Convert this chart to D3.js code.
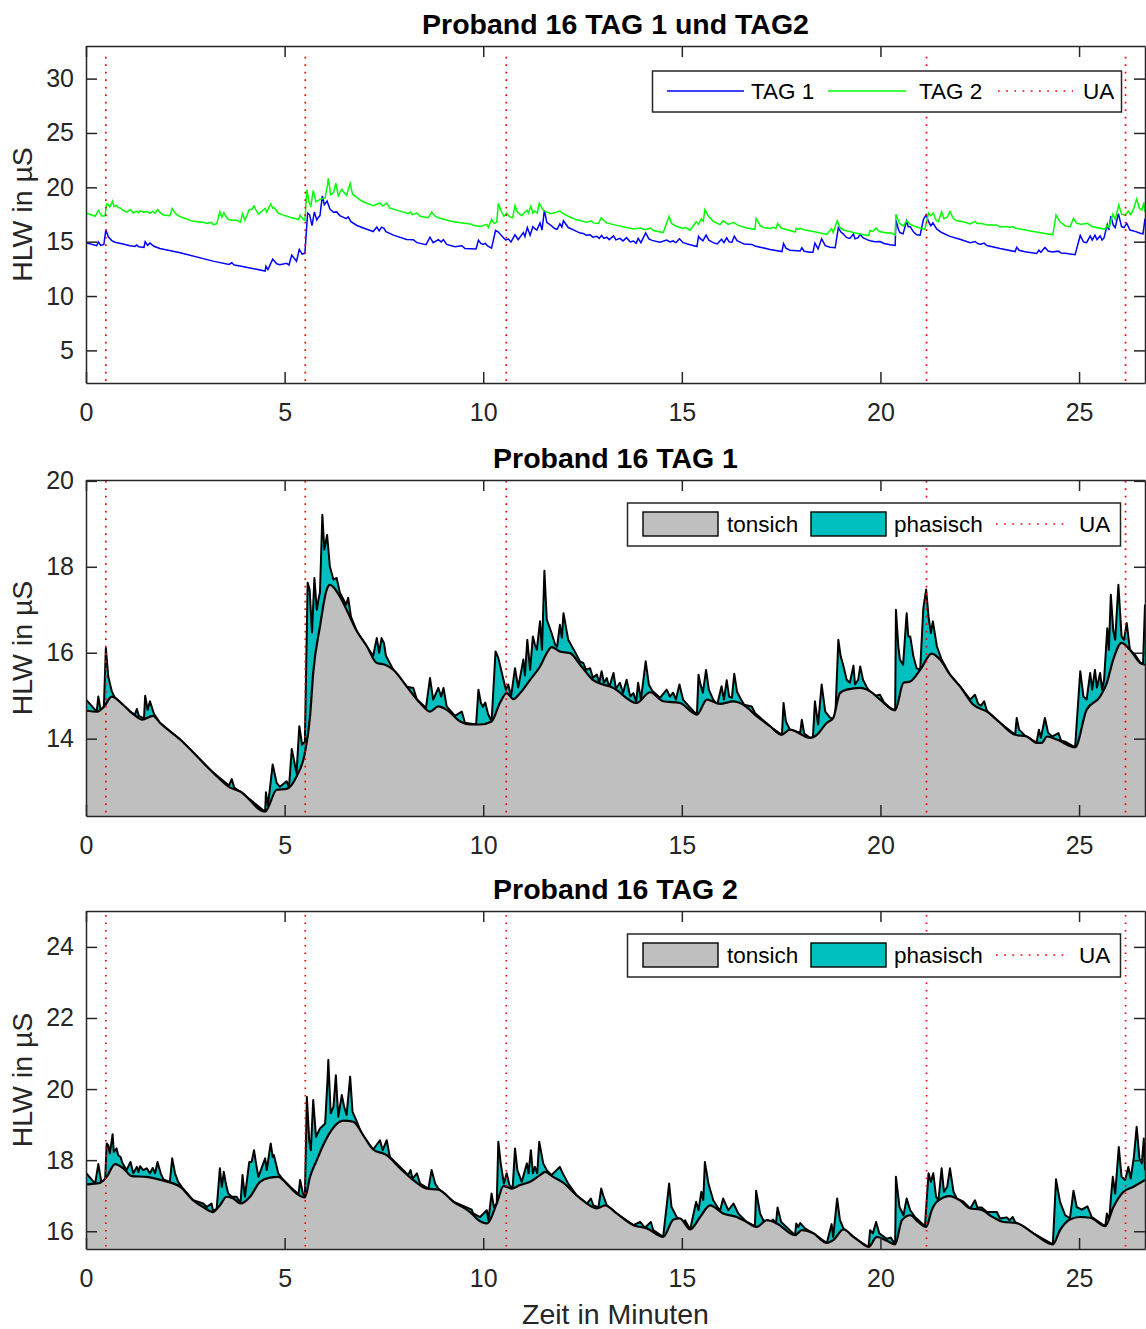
<!DOCTYPE html>
<html lang="de">
<head>
<meta charset="utf-8">
<script src="https://cdn.jsdelivr.net/npm/d3@7"></script>
<style>
	body { margin: 0; background: #fff; }
	svg { display: block; font-family: "Liberation Sans", Arial, Helvetica, sans-serif; }
</style>
</head>
<body>
<svg id="chart" width="1146" height="1329"></svg>
<script>
// UA-Zeitpunkte (Minuten) und Achsenticks
var uaMinutes = [0.50, 5.52, 10.58, 21.16, 26.17];
var minuteTicks = [0, 5, 10, 15, 20, 25];
var yTicksBoth = [5, 10, 15, 20, 25, 30];
var yTicksTag1 = [14, 16, 18, 20];
var yTicksTag2 = [16, 18, 20, 22, 24];
var lineKeys = ["TAG 1", "TAG 2", "UA"];
var areaKeys = ["tonsich", "phasisch", "UA"];

// TAG 1: tonischer Anteil [min, µS]
var tag1Tonic = [[0.00,14.65],[0.28,14.63],[0.45,14.74],[0.65,14.98],[0.93,14.79],[1.11,14.63],[1.28,14.51],[1.41,14.44],[1.69,14.53],[1.86,14.37],[2.37,13.98],[3.20,13.21],[3.63,12.86],[3.88,12.77],[4.51,12.30],[4.80,12.81],[5.05,12.83],[5.30,13.12],[5.51,13.67],[5.64,14.52],[5.72,15.53],[5.89,16.61],[6.06,17.47],[6.14,17.58],[6.39,17.31],[6.56,17.00],[6.82,16.50],[7.07,16.15],[7.32,15.76],[7.53,15.72],[7.74,15.60],[8.07,15.22],[8.41,14.83],[8.66,14.63],[8.87,14.75],[9.08,14.67],[9.42,14.40],[9.67,14.33],[9.92,14.33],[10.21,14.40],[10.42,14.83],[10.59,15.06],[10.76,14.92],[10.93,15.06],[11.18,15.37],[11.43,15.68],[11.60,15.99],[11.72,16.13],[11.93,16.03],[12.19,15.99],[12.44,15.72],[12.77,15.36],[13.28,15.18],[13.86,14.83],[14.20,15.08],[14.53,14.87],[14.95,14.83],[15.38,14.56],[15.63,14.91],[15.96,14.81],[16.30,14.87],[16.55,14.79],[16.89,14.52],[17.22,14.29],[17.51,14.09],[17.72,14.21],[18.23,14.02],[18.40,14.09],[18.65,14.37],[18.81,14.48],[18.98,15.06],[19.15,15.14],[19.49,15.18],[19.74,15.10],[19.99,14.91],[20.37,14.66],[20.58,15.30],[20.75,15.33],[21.00,15.60],[21.29,15.98],[21.50,15.84],[21.75,15.49],[22.00,15.22],[22.34,14.79],[22.68,14.63],[23.01,14.37],[23.39,14.09],[23.68,14.05],[23.94,13.90],[24.06,13.90],[24.19,14.05],[24.44,13.98],[24.90,13.80],[25.19,14.67],[25.53,14.98],[25.70,15.30],[25.86,15.84],[26.07,16.23],[26.28,16.07],[26.54,15.76],[26.66,15.72]];

// TAG 1: Gesamtsignal (tonisch + phasisch)
var tag1Total = [[0.00,14.91],[0.27,14.63],[0.31,14.98],[0.37,14.65],[0.45,14.74],[0.50,16.11],[0.56,15.45],[0.65,15.10],[0.73,14.95],[0.93,14.79],[1.11,14.63],[1.23,14.56],[1.28,14.69],[1.33,14.53],[1.46,14.47],[1.49,15.00],[1.55,14.67],[1.61,14.87],[1.71,14.58],[1.86,14.37],[2.37,13.98],[3.20,13.21],[3.60,12.91],[3.67,13.06],[3.73,12.86],[3.88,12.77],[4.51,12.30],[4.53,12.75],[4.58,12.44],[4.70,13.40],[4.80,12.97],[4.88,12.88],[5.05,13.01],[5.11,12.86],[5.18,13.76],[5.30,13.20],[5.37,14.29],[5.44,13.86],[5.51,13.93],[5.58,17.63],[5.63,17.47],[5.69,16.47],[5.75,17.74],[5.81,17.00],[5.85,17.23],[5.89,17.40],[5.95,19.21],[6.00,18.40],[6.07,18.74],[6.14,18.00],[6.23,17.70],[6.31,17.74],[6.39,17.40],[6.55,17.12],[6.60,17.28],[6.67,16.84],[6.82,16.49],[7.07,16.14],[7.23,15.93],[7.32,16.34],[7.38,16.00],[7.44,16.34],[7.50,16.23],[7.55,15.93],[7.74,15.60],[8.07,15.21],[8.24,15.18],[8.33,14.91],[8.56,14.72],[8.66,15.41],[8.74,14.91],[8.87,15.18],[8.94,14.98],[9.00,15.18],[9.08,14.75],[9.29,14.53],[9.46,14.63],[9.54,14.37],[9.82,14.33],[9.88,15.14],[9.94,14.84],[9.99,14.74],[10.05,14.84],[10.12,14.58],[10.21,14.40],[10.31,16.03],[10.38,15.88],[10.51,15.37],[10.57,15.14],[10.63,15.26],[10.70,14.98],[10.80,15.64],[10.88,15.19],[11.01,15.84],[11.05,15.47],[11.11,16.30],[11.18,15.60],[11.25,16.38],[11.30,16.19],[11.35,16.07],[11.43,16.73],[11.48,16.07],[11.54,17.91],[11.60,16.77],[11.72,16.46],[11.81,16.19],[11.86,16.14],[11.93,16.65],[11.98,16.35],[12.02,16.92],[12.14,16.30],[12.31,16.02],[12.44,15.79],[12.52,15.76],[12.59,15.60],[12.69,15.64],[12.76,15.42],[12.86,15.49],[12.92,15.30],[12.98,15.57],[13.04,15.30],[13.11,15.41],[13.17,15.19],[13.28,15.53],[13.34,15.16],[13.44,15.30],[13.52,15.07],[13.61,15.37],[13.70,14.98],[13.78,15.06],[13.85,14.86],[13.90,15.30],[13.97,14.91],[14.09,15.80],[14.17,15.26],[14.25,15.12],[14.45,14.95],[14.62,15.14],[14.70,14.98],[14.78,15.07],[14.85,14.91],[14.94,15.26],[15.03,14.91],[15.21,14.72],[15.38,14.56],[15.42,15.49],[15.46,15.30],[15.53,15.07],[15.61,15.60],[15.68,15.14],[15.79,14.91],[15.89,14.79],[16.00,15.22],[16.06,14.91],[16.13,15.36],[16.19,14.98],[16.26,14.95],[16.32,15.51],[16.39,15.09],[16.49,14.91],[16.57,14.79],[16.76,14.75],[16.84,14.60],[16.97,14.49],[17.12,14.37],[17.22,14.28],[17.52,14.09],[17.56,14.83],[17.62,14.40],[17.72,14.21],[17.98,14.14],[18.02,14.44],[18.08,14.12],[18.23,14.02],[18.30,14.02],[18.35,14.87],[18.43,14.33],[18.52,15.26],[18.61,14.63],[18.73,14.49],[18.86,14.44],[18.94,16.30],[19.00,15.91],[19.06,15.72],[19.15,15.37],[19.23,15.30],[19.32,15.70],[19.36,15.26],[19.44,15.37],[19.49,15.68],[19.56,15.37],[19.66,15.19],[19.74,15.09],[19.86,15.00],[19.99,15.02],[20.09,14.84],[20.24,14.72],[20.37,14.65],[20.39,17.00],[20.45,16.15],[20.49,15.84],[20.57,15.72],[20.66,16.92],[20.70,16.38],[20.75,16.38],[20.83,15.91],[20.91,15.64],[21.00,15.60],[21.08,17.04],[21.15,17.47],[21.21,16.84],[21.27,16.46],[21.32,16.73],[21.42,16.15],[21.54,15.84],[21.75,15.49],[22.00,15.22],[22.26,14.91],[22.38,15.02],[22.46,14.81],[22.53,14.77],[22.61,14.87],[22.68,14.65],[23.01,14.37],[23.39,14.09],[23.43,14.48],[23.49,14.21],[23.64,14.07],[23.93,13.91],[23.99,14.21],[24.04,14.02],[24.14,14.48],[24.22,14.14],[24.32,14.05],[24.48,14.13],[24.55,13.95],[24.65,13.93],[24.90,13.80],[25.03,15.57],[25.11,14.98],[25.19,14.91],[25.28,15.53],[25.33,15.14],[25.40,15.60],[25.45,15.19],[25.53,15.53],[25.58,15.14],[25.63,15.37],[25.71,16.57],[25.75,16.07],[25.80,17.35],[25.86,16.53],[25.91,16.30],[25.99,17.58],[26.07,16.38],[26.13,16.30],[26.20,16.69],[26.28,16.07],[26.41,15.95],[26.54,15.77],[26.61,15.72],[26.66,17.12]];

// TAG 2: tonischer Anteil
var tag2Tonic = [[0.00,17.32],[0.35,17.36],[0.52,17.53],[0.73,17.89],[0.94,17.77],[1.15,17.55],[1.53,17.53],[1.95,17.42],[2.37,17.25],[2.70,16.87],[2.95,16.68],[3.20,16.54],[3.37,16.73],[3.54,16.97],[3.71,16.92],[3.89,16.78],[4.13,16.97],[4.38,17.39],[4.63,17.51],[4.84,17.53],[5.05,17.34],[5.30,17.06],[5.51,16.95],[5.64,17.53],[5.81,18.00],[5.97,18.42],[6.23,18.92],[6.48,19.11],[6.73,19.08],[6.98,18.70],[7.23,18.30],[7.57,18.14],[7.91,17.77],[8.24,17.44],[8.58,17.20],[8.87,17.17],[9.25,16.83],[9.67,16.54],[9.92,16.28],[10.09,16.22],[10.34,16.78],[10.51,17.27],[10.72,17.20],[10.93,17.30],[11.18,17.39],[11.43,17.58],[11.56,17.67],[11.76,17.53],[12.02,17.36],[12.35,17.01],[12.61,16.78],[12.86,16.64],[13.07,16.73],[13.36,16.50],[13.78,16.17],[14.12,16.08],[14.53,15.84],[14.79,16.33],[14.95,16.36],[15.21,16.05],[15.46,16.40],[15.71,16.73],[16.04,16.50],[16.38,16.40],[16.63,16.26],[16.89,16.12],[17.14,16.31],[17.39,16.22],[17.85,15.89],[18.02,16.03],[18.31,15.94],[18.65,15.67],[18.81,15.75],[19.07,16.05],[19.32,15.84],[19.49,15.70],[19.70,15.56],[19.91,15.84],[20.16,15.73],[20.37,15.63],[20.54,16.31],[20.75,16.45],[20.95,16.26],[21.15,16.12],[21.29,16.59],[21.42,16.83],[21.75,16.99],[22.00,16.87],[22.26,16.64],[22.51,16.61],[22.84,16.39],[23.09,16.26],[23.43,16.23],[23.85,15.94],[24.34,15.63],[24.52,16.03],[24.77,16.33],[25.03,16.40],[25.28,16.38],[25.66,16.14],[25.86,16.67],[26.12,17.11],[26.37,17.25],[26.66,17.44]];

// TAG 2: Gesamtsignal
var tag2Total = [[0.00,17.64],[0.23,17.34],[0.31,17.89],[0.39,17.36],[0.48,17.39],[0.52,18.47],[0.56,18.42],[0.60,18.19],[0.67,18.73],[0.70,18.23],[0.77,18.33],[0.81,18.14],[0.87,18.09],[0.92,17.91],[1.02,17.72],[1.12,17.95],[1.19,17.63],[1.28,17.81],[1.32,17.67],[1.36,17.83],[1.44,17.72],[1.53,17.77],[1.61,17.63],[1.68,17.78],[1.74,17.63],[1.80,17.95],[1.88,17.63],[1.95,17.46],[2.11,17.39],[2.17,18.05],[2.24,17.63],[2.32,17.39],[2.41,17.25],[2.70,16.87],[2.95,16.78],[3.04,16.68],[3.16,16.78],[3.20,16.57],[3.29,16.64],[3.37,17.77],[3.42,17.25],[3.47,17.67],[3.52,17.34],[3.58,17.06],[3.67,16.97],[3.79,16.97],[3.89,16.80],[3.94,17.58],[4.00,16.97],[4.11,17.95],[4.17,17.95],[4.23,18.28],[4.28,17.91],[4.34,17.53],[4.51,18.05],[4.55,17.72],[4.65,18.47],[4.70,18.09],[4.73,18.14],[4.84,17.63],[4.97,17.44],[5.14,17.25],[5.35,17.04],[5.39,17.44],[5.46,17.06],[5.51,16.95],[5.56,19.78],[5.62,18.56],[5.66,18.28],[5.72,19.69],[5.79,18.66],[5.89,18.89],[6.02,19.03],[6.08,20.25],[6.10,20.82],[6.16,19.32],[6.23,19.50],[6.29,20.39],[6.35,19.22],[6.44,19.83],[6.50,19.50],[6.56,19.27],[6.65,20.35],[6.71,19.36],[6.80,19.13],[6.90,18.85],[6.99,18.65],[7.23,18.30],[7.40,18.56],[7.47,18.28],[7.57,18.56],[7.65,18.09],[7.78,17.95],[8.11,17.58],[8.17,17.72],[8.22,17.48],[8.33,17.63],[8.41,17.34],[8.62,17.20],[8.70,17.72],[8.79,17.34],[8.87,17.20],[9.25,16.83],[9.71,16.61],[9.74,16.51],[9.92,16.40],[10.09,16.59],[10.13,16.31],[10.21,17.06],[10.27,16.68],[10.34,16.78],[10.38,18.52],[10.44,17.91],[10.52,17.34],[10.59,17.63],[10.66,17.30],[10.74,17.20],[10.80,18.33],[10.86,17.72],[10.97,17.39],[11.10,17.91],[11.14,17.63],[11.20,18.28],[11.25,17.63],[11.30,17.81],[11.36,17.63],[11.41,18.52],[11.51,17.91],[11.60,17.72],[11.72,17.58],[11.93,17.81],[12.00,17.63],[12.14,17.34],[12.35,17.01],[12.61,16.78],[12.71,16.92],[12.77,16.73],[12.90,16.67],[12.97,17.20],[13.02,17.01],[13.11,16.73],[13.36,16.50],[13.78,16.17],[13.95,16.26],[14.07,16.10],[14.22,16.26],[14.28,16.03],[14.53,15.84],[14.68,17.34],[14.74,16.68],[14.87,16.40],[15.04,16.22],[15.08,16.31],[15.21,16.05],[15.36,16.83],[15.42,16.59],[15.49,17.11],[15.54,16.87],[15.58,17.95],[15.67,17.34],[15.79,16.87],[15.96,16.57],[16.04,16.92],[16.17,16.59],[16.30,16.78],[16.42,16.50],[16.63,16.26],[16.84,16.14],[16.87,17.14],[16.97,16.50],[17.05,16.31],[17.22,16.22],[17.29,16.33],[17.37,16.22],[17.41,16.67],[17.50,16.26],[17.85,15.89],[17.88,16.22],[17.93,16.12],[17.98,16.23],[18.10,16.08],[18.31,15.94],[18.65,15.67],[18.77,16.20],[18.81,15.84],[18.91,16.92],[18.98,16.31],[19.07,16.08],[19.32,15.84],[19.49,15.70],[19.70,15.56],[19.74,16.03],[19.81,15.94],[19.89,16.26],[19.97,15.94],[20.16,15.79],[20.26,15.82],[20.37,15.63],[20.39,17.53],[20.48,16.68],[20.58,16.45],[20.66,16.92],[20.75,16.59],[20.87,16.40],[21.12,16.14],[21.17,16.97],[21.21,17.63],[21.27,17.39],[21.33,17.63],[21.40,16.97],[21.46,16.87],[21.54,17.77],[21.60,17.11],[21.68,17.25],[21.75,17.77],[21.84,17.11],[21.92,16.92],[22.09,16.83],[22.26,16.64],[22.38,16.87],[22.44,16.67],[22.55,16.67],[22.68,16.54],[22.93,16.54],[23.01,16.36],[23.18,16.39],[23.25,16.31],[23.33,16.40],[23.39,16.26],[23.85,15.94],[24.34,15.63],[24.42,17.46],[24.52,16.83],[24.65,16.45],[24.77,16.36],[24.86,17.14],[24.94,16.68],[25.07,16.61],[25.21,16.70],[25.32,16.40],[25.66,16.14],[25.70,16.50],[25.76,16.31],[25.80,16.92],[25.85,17.53],[25.91,17.06],[26.00,18.37],[26.07,17.53],[26.16,17.44],[26.24,17.81],[26.30,17.48],[26.38,18.09],[26.45,18.94],[26.52,18.05],[26.58,17.91],[26.63,18.61],[26.66,17.72]];

var axisColor = "#262626";
var svg = d3.select("#chart");
var defs = svg.append("defs");

var x = d3.scaleLinear().domain([0, 26.66]).range([86, 1145]);

var panels = [
	{top: 46, bottom: 383, ydom: [2, 33], yticks: yTicksBoth, title: "Proband 16 TAG 1 und TAG2", uaTop: 32},
	{top: 480, bottom: 816, ydom: [12.2, 20.02], yticks: yTicksTag1, title: "Proband 16 TAG 1", uaTop: 20, tonic: tag1Tonic, total: tag1Total},
	{top: 911, bottom: 1249, ydom: [15.5, 25.01], yticks: yTicksTag2, title: "Proband 16 TAG 2", uaTop: 24.9, tonic: tag2Tonic, total: tag2Total}
];

panels.forEach(function(p, i) {
	var y = d3.scaleLinear().domain(p.ydom).range([p.bottom, p.top]);

	defs.append("clipPath").attr("id", "clip" + i)
		.append("rect")
		.attr("x", x.range()[0]).attr("y", p.top)
		.attr("width", x.range()[1] - x.range()[0])
		.attr("height", p.bottom - p.top);

	var plot = svg.append("g").attr("clip-path", "url(#clip" + i + ")");

	var line = d3.line().x(d => x(d[0])).y(d => y(d[1]));

	if (i == 0) {
		plot.append("path")
			.attr("d", line(tag1Total))
			.attr("fill", "none")
			.attr("stroke", "#0000ff")
			.attr("stroke-width", 1.5);
		plot.append("path")
			.attr("d", line(tag2Total))
			.attr("fill", "none")
			.attr("stroke", "#00ff00")
			.attr("stroke-width", 1.5);
	} else {
		var smooth = d3.line().x(d => x(d[0])).y(d => y(d[1])).curve(d3.curveMonotoneX);
		var totalArea = d3.area().x(d => x(d[0])).y0(p.bottom).y1(d => y(d[1]));
		var tonicArea = d3.area().x(d => x(d[0])).y0(p.bottom).y1(d => y(d[1])).curve(d3.curveMonotoneX);
		var aboveTonic = d3.area().x(d => x(d[0])).y0(p.top).y1(d => y(d[1])).curve(d3.curveMonotoneX);

		// phasisch = Fläche zwischen Gesamt und tonisch
		plot.append("path").attr("d", totalArea(p.total)).attr("fill", "#00bfbf");
		plot.append("path").attr("d", tonicArea(p.tonic)).attr("fill", "#bfbfbf");

		// Kontur des Gesamtsignals nur oberhalb des tonischen Anteils
		defs.append("clipPath").attr("id", "above" + i)
			.append("path").attr("d", aboveTonic(p.tonic));
		plot.append("g").attr("clip-path", "url(#above" + i + ")")
			.append("path")
			.attr("d", line(p.total))
			.attr("fill", "none")
			.attr("stroke", "#000")
			.attr("stroke-width", 2)
			.attr("stroke-linejoin", "round");

		plot.append("path")
			.attr("d", smooth(p.tonic))
			.attr("fill", "none")
			.attr("stroke", "#000")
			.attr("stroke-width", 2.2);
	}

	// UA Markierungen
	plot.selectAll(".ua")
		.data(uaMinutes)
		.enter()
		.append("line")
		.attr("x1", d => x(d)).attr("x2", d => x(d))
		.attr("y1", y(p.uaTop)).attr("y2", p.bottom)
		.attr("stroke", "#ff0000")
		.attr("stroke-width", 1.7)
		.attr("stroke-dasharray", "1.7,5.8");

	// Achsen (Box mit Ticks nach innen)
	var axes = [
		{ax: d3.axisBottom(x).tickValues(minuteTicks).tickPadding(20), tr: "translate(0," + p.bottom + ")"},
		{ax: d3.axisTop(x).tickValues(minuteTicks).tickFormat(""), tr: "translate(0," + p.top + ")"},
		{ax: d3.axisLeft(y).tickValues(p.yticks).tickPadding(12), tr: "translate(" + x.range()[0] + ",0)"},
		{ax: d3.axisRight(y).tickValues(p.yticks).tickFormat(""), tr: "translate(" + x.range()[1] + ",0)"}
	];
	axes.forEach(function(a) {
		var g = svg.append("g")
			.attr("transform", a.tr)
			.call(a.ax.tickSize(-11).tickSizeOuter(0));
		g.attr("font-size", 25).attr("font-family", null);
		g.selectAll("path.domain, .tick line")
			.attr("stroke", axisColor)
			.attr("stroke-width", 1.5);
		g.selectAll(".tick text").attr("fill", axisColor);
	});

	// Titel + y-Beschriftung
	svg.append("text")
		.attr("x", (x.range()[0] + x.range()[1]) / 2)
		.attr("y", p.top - 12)
		.attr("text-anchor", "middle")
		.attr("font-size", 28.5)
		.attr("font-weight", "bold")
		.attr("fill", "#000")
		.text(p.title);

	svg.append("text")
		.attr("transform", "translate(32," + (p.top + p.bottom) / 2 + ") rotate(-90)")
		.attr("text-anchor", "middle")
		.attr("font-size", 28.5)
		.attr("fill", axisColor)
		.text("HLW in µS");

	// Legende
	var leg = svg.append("g").attr("font-size", 22.5).attr("fill", "#000");
	if (i == 0) {
		leg.append("rect")
			.attr("x", 652.5).attr("y", p.top + 25)
			.attr("width", 469).attr("height", 41)
			.attr("fill", "#fff").attr("stroke", axisColor).attr("stroke-width", 1.5);
		var keyX = [[667, 744, 751], [828, 906, 919], [998, 1073, 1083]];
		var keyStroke = ["#0000ff", "#00ff00", "#ff0000"];
		lineKeys.forEach(function(k, j) {
			leg.append("line")
				.attr("x1", keyX[j][0]).attr("x2", keyX[j][1])
				.attr("y1", p.top + 45).attr("y2", p.top + 45)
				.attr("stroke", keyStroke[j])
				.attr("stroke-width", j == 2 ? 1.7 : 1.5)
				.attr("stroke-dasharray", j == 2 ? "1.7,6.5" : null);
			leg.append("text").attr("x", keyX[j][2]).attr("y", p.top + 53).text(k);
		});
	} else {
		leg.append("rect")
			.attr("x", 627.5).attr("y", p.top + 23)
			.attr("width", 493).attr("height", 43)
			.attr("fill", "#fff").attr("stroke", axisColor).attr("stroke-width", 1.5);
		var patchX = [[643, 727], [811, 894]];
		var patchFill = ["#bfbfbf", "#00bfbf"];
		patchX.forEach(function(px, j) {
			leg.append("rect")
				.attr("x", px[0]).attr("y", p.top + 32)
				.attr("width", 75).attr("height", 24)
				.attr("fill", patchFill[j]).attr("stroke", "#000").attr("stroke-width", 1.4);
			leg.append("text").attr("x", px[1]).attr("y", p.top + 52).text(areaKeys[j]);
		});
		leg.append("line")
			.attr("x1", 996).attr("x2", 1068)
			.attr("y1", p.top + 44).attr("y2", p.top + 44)
			.attr("stroke", "#ff0000").attr("stroke-width", 1.7)
			.attr("stroke-dasharray", "1.7,6.5");
		leg.append("text").attr("x", 1079).attr("y", p.top + 52).text(areaKeys[2]);
	}
});

svg.append("text")
	.attr("x", (x.range()[0] + x.range()[1]) / 2)
	.attr("y", 1324)
	.attr("text-anchor", "middle")
	.attr("font-size", 28.5)
	.attr("fill", axisColor)
	.text("Zeit in Minuten");
</script>
</body>
</html>
